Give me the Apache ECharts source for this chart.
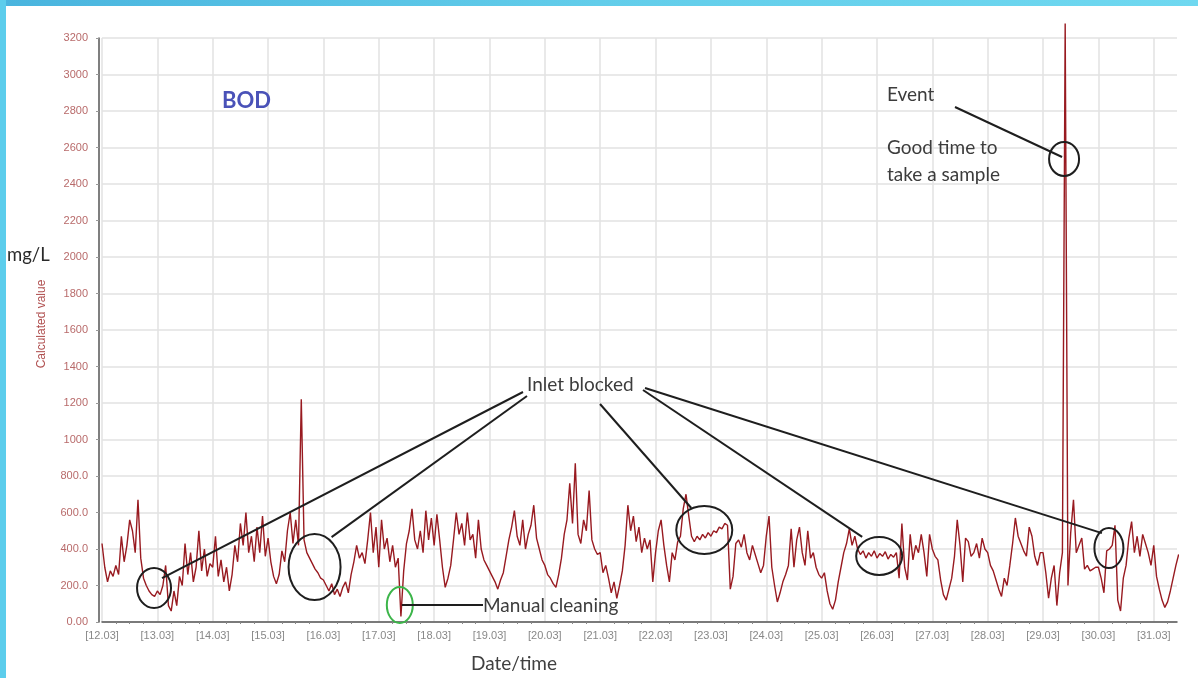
<!DOCTYPE html>
<html>
<head>
<meta charset="utf-8">
<script src="https://cdn.jsdelivr.net/npm/echarts@6/dist/echarts.min.js"></script>
<style>
  html, body { margin: 0; padding: 0; background: #fff; }
  #frameTop { position: absolute; left: 0; top: 0; width: 1198px; height: 6px;
    background: linear-gradient(90deg, #49b4de, #62cdea 50%, #6fd8f0); z-index: 2; }
  #frameLeft { position: absolute; left: 0; top: 0; width: 6px; height: 678px;
    background: #5ccdec; z-index: 2; }
  #chart { position: absolute; left: 0; top: 0; width: 1198px; height: 678px; }
</style>
</head>
<body>
<div id="frameTop"></div>
<div id="frameLeft"></div>
<div id="chart"></div>
<script>
// Calculated BOD (mg/L), one reading every 0.05 day starting on 12.03
const startDay = 12;
const stepDays = 0.05;
const bodValues = [
  // 12.03
  430, 300, 220, 280, 250, 310, 260, 470, 330, 420, 560, 500, 380, 670, 350, 240, 200, 170, 150, 140,
  // 13.03
  170, 150, 200, 310, 90, 60, 170, 90, 250, 200, 430, 260, 380, 220, 300, 500, 280, 400, 250, 320,
  // 14.03
  300, 470, 250, 340, 220, 300, 170, 260, 420, 330, 540, 420, 600, 380, 470, 330, 520, 380, 580, 360,
  // 15.03
  460, 330, 250, 210, 260, 390, 330, 500, 600, 430, 560, 420, 1220, 450, 380, 350, 320, 290, 270, 240,
  // 16.03
  230, 200, 170, 210, 150, 180, 140, 190, 220, 160, 260, 330, 420, 350, 380, 320, 450, 600, 380, 520,
  // 17.03
  300, 560, 400, 460, 330, 420, 300, 350, 30, 280, 430, 500, 620, 450, 400, 500, 380, 610, 450, 570,
  // 18.03
  420, 590, 450, 300, 190, 240, 310, 450, 600, 480, 540, 420, 600, 450, 480, 350, 560, 400, 340, 310,
  // 19.03
  280, 250, 220, 180, 230, 270, 360, 450, 520, 610, 470, 420, 560, 400, 480, 530, 640, 460, 400, 340,
  // 20.03
  310, 260, 240, 210, 190, 260, 350, 480, 560, 760, 540, 870, 480, 430, 560, 500, 720, 450, 400, 370,
  // 21.03
  380, 270, 310, 240, 160, 220, 130, 200, 280, 420, 640, 500, 580, 440, 520, 380, 460, 400, 450, 220,
  // 22.03
  380, 500, 560, 420, 310, 220, 380, 340, 440, 470, 620, 700, 580, 470, 440, 470, 450, 480, 460, 490,
  // 23.03
  470, 500, 490, 520, 510, 540, 530, 180, 250, 430, 450, 410, 480, 380, 340, 420, 370, 320, 270, 310,
  // 24.03
  470, 580, 300, 200, 110, 160, 220, 260, 310, 510, 300, 450, 520, 380, 310, 500, 350, 380, 300, 260,
  // 25.03
  240, 270, 170, 100, 70, 120, 220, 300, 380, 430, 510, 420, 470, 400, 370, 390, 350, 380, 360, 390,
  // 26.03
  350, 375, 360, 385, 345, 370, 355, 380, 240, 540, 300, 230, 480, 340, 420, 380, 480, 380, 250, 480,
  // 27.03
  400, 360, 340, 230, 150, 120, 180, 240, 360, 560, 420, 220, 460, 440, 360, 380, 430, 350, 460, 400,
  // 28.03
  380, 310, 280, 230, 180, 140, 240, 200, 310, 430, 570, 470, 430, 390, 360, 520, 470, 360, 310, 380,
  // 29.03
  380, 270, 130, 240, 310, 90, 270, 380, 3280, 200, 490, 670, 380, 420, 460, 290, 310, 280, 290, 300,
  // 30.03
  300, 240, 160, 390, 400, 420, 530, 120, 60, 240, 310, 460, 550, 380, 470, 360, 480, 430, 380, 310,
  // 31.03
  420, 250, 180, 120, 80, 110, 170, 240, 310, 370
];

const yTicks = { min: 0, max: 3200, step: 200 };
const xRange = { min: 12, max: 31.42 };

const seriesData = bodValues.map((v, i) => [+(startDay + i * stepDays).toFixed(2), v]);

const chart = echarts.init(document.getElementById('chart'), null, { renderer: 'canvas' });

const gridColor = '#e2e2e2';
const annoColor = '#3c3c3c';
const annoFont = 'Lato, "Open Sans", sans-serif';

chart.setOption({
  animation: false,
  backgroundColor: '#ffffff',
  grid: { left: 102, right: 21, top: 38, bottom: 56 },
  xAxis: {
    type: 'value',
    min: xRange.min,
    max: xRange.max,
    interval: 1,
    axisLine: { show: true, lineStyle: { color: '#555', width: 1.5 } },
    axisTick: { show: false },
    minorTick: { show: true, splitNumber: 4, length: 2, lineStyle: { color: '#888' } },
    splitLine: { show: true, showMaxLine: false, lineStyle: { color: gridColor, width: 1.5 } },
    axisLabel: {
      color: '#888', fontSize: 11, margin: 8, fontFamily: 'Arial, sans-serif',
      showMaxLabel: false,
      formatter: v => Number.isInteger(v) ? '[' + v + '.03]' : ''
    }
  },
  yAxis: {
    type: 'value',
    min: yTicks.min,
    max: yTicks.max,
    interval: yTicks.step,
    offset: 3,
    axisLine: { show: true, lineStyle: { color: '#555', width: 1.5 } },
    axisTick: { show: true, length: 3, lineStyle: { color: '#999' } },
    splitLine: { show: true, lineStyle: { color: gridColor, width: 1.5 } },
    axisLabel: {
      color: '#b86a6a', fontSize: 11, margin: 11, fontFamily: 'Arial, sans-serif',
      formatter: v => v >= 1000 ? String(v) : (v === 0 ? '0.00' : v.toFixed(1))
    }
  },
  series: [{
    type: 'line',
    data: seriesData,
    showSymbol: false,
    clip: false,
    lineStyle: { color: '#981a20', width: 1.4 },
    emphasis: { disabled: true }
  }]
});

// Annotation circles sit on the data: centre in [day, mg/L], radii in px
const px = (day, val) => chart.convertToPixel({ gridIndex: 0 }, [day, val]);
const circles = {
  c1: { at: px(12.94, 186), rx: 17, ry: 20 },
  c2: { at: px(15.84, 301), rx: 26, ry: 33 },
  c3: { at: px(22.88, 504), rx: 28, ry: 24 },
  c4: { at: px(26.04, 362), rx: 23, ry: 19 },
  c5: { at: px(30.19, 405), rx: 14.5, ry: 20 },
  ev: { at: px(29.38, 2537), rx: 15, ry: 17 },
  mc: { at: px(17.38, 93), rx: 13, ry: 18 }
};

const ell = (c, color) => ({
  type: 'ellipse',
  shape: { cx: c.at[0], cy: c.at[1], rx: c.rx, ry: c.ry },
  style: { fill: 'none', stroke: color || '#1e1e1e', lineWidth: 2 },
  z: 10, silent: true
});
const seg = (x1, y1, c, dx, dy) => ({
  type: 'line',
  shape: { x1, y1, x2: c.at[0] + dx, y2: c.at[1] + dy },
  style: { stroke: '#1e1e1e', lineWidth: 2 },
  z: 10, silent: true
});
const txt = (text, x, y, opts) => Object.assign({
  type: 'text', x, y, z: 11, silent: true,
  style: Object.assign({
    text, fill: annoColor, font: '19px ' + annoFont,
    textAlign: 'left', textVerticalAlign: 'middle'
  }, (opts && opts.style) || {})
}, opts && opts.rotation !== undefined ? { rotation: opts.rotation } : {});

chart.setOption({
  graphic: [
    txt('BOD', 222, 101, { style: { fill: '#4a52b8', font: 'bold 22px ' + annoFont } }),
    txt('mg/L', 7, 255, { style: { fill: '#2a2a2a', font: '18.5px ' + annoFont } }),
    txt('Calculated value', 42, 324, { rotation: Math.PI / 2,
      style: { fill: '#b05050', font: '12px Arial, sans-serif', textAlign: 'center' } }),
    txt('Date/time', 514, 664, { style: { fill: '#404040', font: '19px ' + annoFont, textAlign: 'center' } }),

    txt('Event', 887, 95),
    txt('Good time to', 887, 148),
    txt('take a sample', 887, 175),
    seg(955, 107, circles.ev, -2, -2),
    ell(circles.ev),

    txt('Inlet blocked', 527, 385),
    seg(523, 392, circles.c1, 8, -10),
    seg(527, 396, circles.c2, 17, -30),
    seg(600, 404, circles.c3, -13, -22),
    seg(643, 390, circles.c4, -17, -19),
    seg(645, 388, circles.c5, -7, -15),
    ell(circles.c1), ell(circles.c2), ell(circles.c3), ell(circles.c4), ell(circles.c5),

    ell(circles.mc, '#3cb54a'),
    seg(circles.mc.at[0] + 2, circles.mc.at[1], { at: [483, circles.mc.at[1]] }, 0, 0),
    txt('Manual cleaning', 483, 606)
  ]
});
</script>
</body>
</html>
